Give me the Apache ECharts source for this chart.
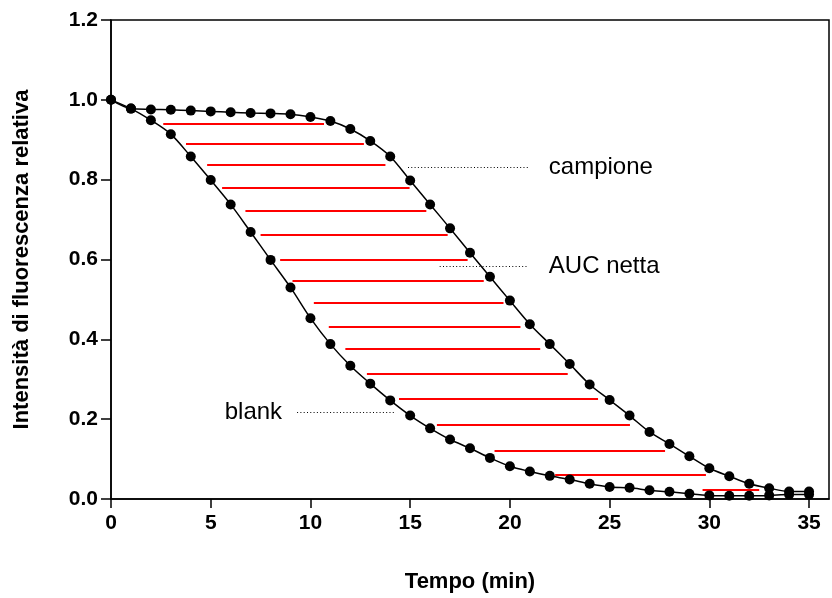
<!DOCTYPE html>
<html><head><meta charset="utf-8">
<script src="https://cdn.jsdelivr.net/npm/echarts@6/dist/echarts.min.js"></script>
<style>html,body{margin:0;padding:0;background:#fff}#c{width:832px;height:598px}</style>
</head><body><div id="c"></div>
<script>
// ---- data ----
const time = [0,1,2,3,4,5,6,7,8,9,10,11,12,13,14,15,16,17,18,19,20,21,22,23,24,25,26,27,28,29,30,31,32,33,34,35];
const campione = [1.000,0.978,0.976,0.975,0.973,0.971,0.969,0.967,0.966,0.964,0.957,0.947,0.927,0.897,0.858,0.798,0.738,0.678,0.617,0.557,0.497,0.438,0.388,0.338,0.287,0.248,0.209,0.168,0.138,0.107,0.077,0.057,0.038,0.027,0.019,0.019];
const blank = [1.000,0.978,0.949,0.914,0.858,0.799,0.738,0.669,0.599,0.530,0.453,0.388,0.334,0.289,0.247,0.209,0.177,0.149,0.127,0.103,0.082,0.069,0.058,0.049,0.038,0.030,0.028,0.022,0.018,0.013,0.009,0.008,0.008,0.009,0.011,0.011];
// hatching of the net AUC (level, start time, end time)
const hatchLevel = [0.940,0.891,0.837,0.780,0.723,0.662,0.600,0.547,0.491,0.432,0.377,0.315,0.250,0.185,0.121,0.062,0.022];
const hatchFrom  = [2.62,3.76,4.82,5.57,6.74,7.50,8.48,9.10,10.17,10.92,11.75,12.83,14.44,16.34,19.23,22.27,29.66];
const hatchTo    = [10.68,12.68,13.76,14.97,15.81,16.88,17.88,18.69,19.68,20.53,21.52,22.90,24.42,26.02,27.78,29.83,32.50];
// annotations (text, level, from, to, side)
const noteText  = ['campione','AUC netta','blank'];
const noteLevel = [0.830,0.582,0.218];
const noteFrom  = [14.89,16.48,9.33];
const noteTo    = [20.90,20.90,14.22];
const noteSide  = ['right','right','left'];
const xTicks = [0,5,10,15,20,25,30,35];
const yTicks = [0,0.2,0.4,0.6,0.8,1.0,1.2];
const xName = 'Tempo (min)';
const yName = 'Intensità di fluorescenza relativa';

const FONT = '"Liberation Sans", Arial, Helvetica, sans-serif';
const chart = echarts.init(document.getElementById('c'), null, {renderer:'canvas'});

const hatchData = hatchLevel.map((y,i)=>({coords:[[hatchFrom[i],y],[hatchTo[i],y]]}));
const noteLines = noteLevel.map((y,i)=>({coords:[[noteFrom[i],y],[noteTo[i],y]]}));
const noteLabels = noteLevel.map((y,i)=>({
  value: noteSide[i]==='right' ? [noteTo[i],y] : [noteFrom[i],y],
  label:{show:true, formatter:noteText[i], position:noteSide[i], distance: noteSide[i]==='right'?21:15,
    color:'#000', opacity:1, fontFamily:FONT, fontSize:24}
}));

chart.setOption({
  animation:false,
  backgroundColor:'#fff',
  grid:{left:111, top:20, right:3, bottom:97, show:true, borderColor:'#000', borderWidth:1.5, backgroundColor:'transparent'},
  xAxis:{
    type:'value', min:0, max:36, interval:5,
    name:xName, nameLocation:'middle', nameGap:72,
    nameTextStyle:{fontFamily:FONT, fontSize:22, fontWeight:'bold', color:'#000'},
    axisLine:{show:true, lineStyle:{color:'#000', width:1.5}},
    axisTick:{show:true, length:9, customValues:xTicks, lineStyle:{color:'#000', width:1.5}},
    axisLabel:{customValues:xTicks, margin:14, fontFamily:FONT, fontSize:21, fontWeight:'bold', color:'#000'},
    splitLine:{show:false}
  },
  yAxis:{
    type:'value', min:0, max:1.2, interval:0.2,
    name:yName, nameLocation:'middle', nameGap:78,
    nameTextStyle:{fontFamily:FONT, fontSize:22, fontWeight:'bold', color:'#000'},
    axisLine:{show:true, lineStyle:{color:'#000', width:1.5}},
    axisTick:{show:true, length:10, customValues:yTicks, lineStyle:{color:'#000', width:1.5}},
    axisLabel:{customValues:yTicks, margin:13, fontFamily:FONT, fontSize:21, fontWeight:'bold', color:'#000',
      formatter:v=>v.toFixed(1)},
    splitLine:{show:false}
  },
  series:[
    {type:'lines', coordinateSystem:'cartesian2d', z:1, silent:true,
     lineStyle:{color:'#ff0000', width:1.8, opacity:1}, data:hatchData},
    {type:'lines', coordinateSystem:'cartesian2d', z:1, silent:true,
     lineStyle:{color:'#000', width:1.2, type:[1,2.3], opacity:1}, data:noteLines},
    {type:'scatter', symbolSize:0, z:3, silent:true, data:noteLabels,
     itemStyle:{color:'#000', opacity:1},
     label:{color:'#000', fontFamily:FONT, fontSize:24},
     emphasis:{disabled:true}},
    {type:'line', name:'campione', data:time.map((t,i)=>[t,campione[i]]), smooth:0.3,
     symbol:'circle', symbolSize:10, showAllSymbol:true, z:5,
     lineStyle:{color:'#000', width:1.5}, itemStyle:{color:'#000'}},
    {type:'line', name:'blank', data:time.map((t,i)=>[t,blank[i]]), smooth:0.3,
     symbol:'circle', symbolSize:10, showAllSymbol:true, z:5,
     lineStyle:{color:'#000', width:1.5}, itemStyle:{color:'#000'}}
  ]
});
</script>
</body></html>
